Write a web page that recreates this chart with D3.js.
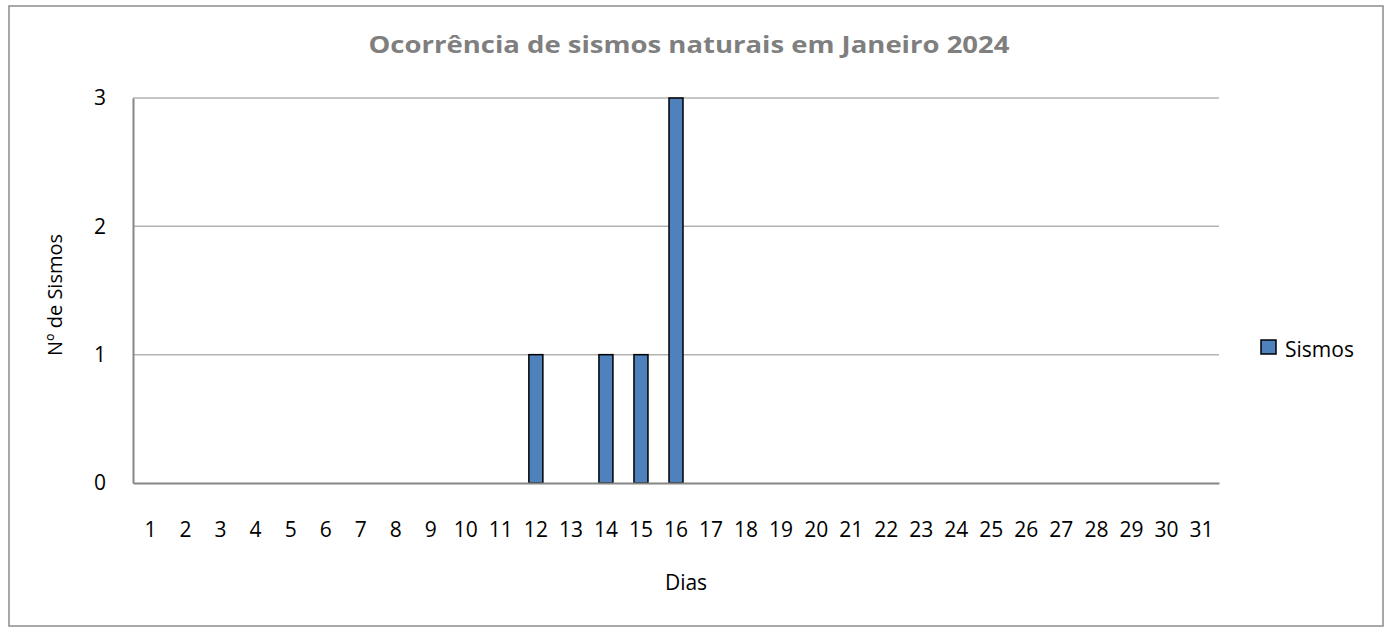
<!DOCTYPE html>
<html>
<head>
<meta charset="utf-8">
<script src="https://cdn.jsdelivr.net/npm/d3@7"></script>
<style>
body{margin:0;background:#fff;}
text{font-family:"Open Sans",sans-serif;}
</style>
</head>
<body>
<svg id="chart"></svg>
<script>
var dias=d3.range(1,32).map(String);
var sismos=[0,0,0,0,0,0,0,0,0,0,0,1,0,1,1,3,0,0,0,0,0,0,0,0,0,0,0,0,0,0,0];
var yTicks=[0,1,2,3];
var titulo="Ocorrência de sismos naturais em Janeiro 2024";
var serie="Sismos";

var w=1391,h=628;
var plot={left:133,right:1219,top:98,bottom:483};
var fonte="'Open Sans',sans-serif";

var svg=d3.select("#chart")
          .attr("width",w)
          .attr("height",h);

// moldura exterior
svg.append("rect")
   .attr("x",9).attr("y",6)
   .attr("width",1374).attr("height",620)
   .attr("fill","#fff")
   .attr("stroke","#8c8c8c")
   .attr("stroke-width",1.5);

var xScale=d3.scaleBand()
             .domain(dias)
             .range([plot.left,plot.right]);
var yScale=d3.scaleLinear()
             .domain([0,3])
             .range([plot.bottom,plot.top]);

// linhas de grelha
svg.append("g")
   .selectAll("line")
   .data(yTicks.filter(function(d){return d>0;}))
   .enter()
   .append("line")
   .attr("x1",plot.left).attr("x2",plot.right)
   .attr("y1",function(d){return yScale(d);})
   .attr("y2",function(d){return yScale(d);})
   .attr("stroke","#b3b3b3")
   .attr("stroke-width",1.5);

// barras
var bw=14;
svg.append("g")
   .selectAll("rect")
   .data(sismos.map(function(v,i){return {dia:dias[i],v:v};}).filter(function(d){return d.v>0;}))
   .enter()
   .append("rect")
   .attr("x",function(d){return xScale(d.dia)+xScale.bandwidth()/2-bw/2;})
   .attr("y",function(d){return yScale(d.v);})
   .attr("width",bw)
   .attr("height",function(d){return yScale(0)-yScale(d.v);})
   .attr("fill","#4f81bd")
   .attr("stroke","#000")
   .attr("stroke-width",1.5);

// eixos
var xAxis=d3.axisBottom(xScale).tickSize(0).tickPadding(54);
var yAxis=d3.axisLeft(yScale).tickValues(yTicks).tickFormat(d3.format("d")).tickSize(0).tickPadding(27);
var gx=svg.append("g")
   .attr("transform","translate(0,"+plot.bottom+")")
   .call(xAxis);
gx.select(".domain").attr("stroke","#868686").attr("stroke-width",2);
gx.selectAll("text").attr("font-size",21).attr("fill","#000").attr("dy","0")
  .style("font-family",fonte);
var gy=svg.append("g")
   .attr("transform","translate("+plot.left+",0)")
   .call(yAxis);
gy.select(".domain").attr("stroke","#868686").attr("stroke-width",2);
gy.selectAll("text").attr("font-size",21).attr("fill","#000")
  .style("font-family",fonte);

// titulo
svg.append("text")
   .attr("x",689).attr("y",53)
   .attr("text-anchor","middle")
   .attr("font-size",24)
   .attr("font-weight","bold")
   .attr("fill","#7f7f7f")
   .attr("textLength",641)
   .attr("lengthAdjust","spacingAndGlyphs")
   .text(titulo);

// titulos dos eixos
svg.append("text")
   .attr("x",686).attr("y",590)
   .attr("text-anchor","middle")
   .attr("font-size",21)
   .text("Dias");
svg.append("text")
   .attr("transform","translate(62,295) rotate(-90)")
   .attr("text-anchor","middle")
   .attr("font-size",20)
   .text("Nº de Sismos");

// legenda
svg.append("rect")
   .attr("x",1261).attr("y",340)
   .attr("width",15).attr("height",14)
   .attr("fill","#4f81bd")
   .attr("stroke","#000")
   .attr("stroke-width",1.5);
svg.append("text")
   .attr("x",1285).attr("y",357)
   .attr("font-size",21)
   .text(serie);
</script>
</body>
</html>
